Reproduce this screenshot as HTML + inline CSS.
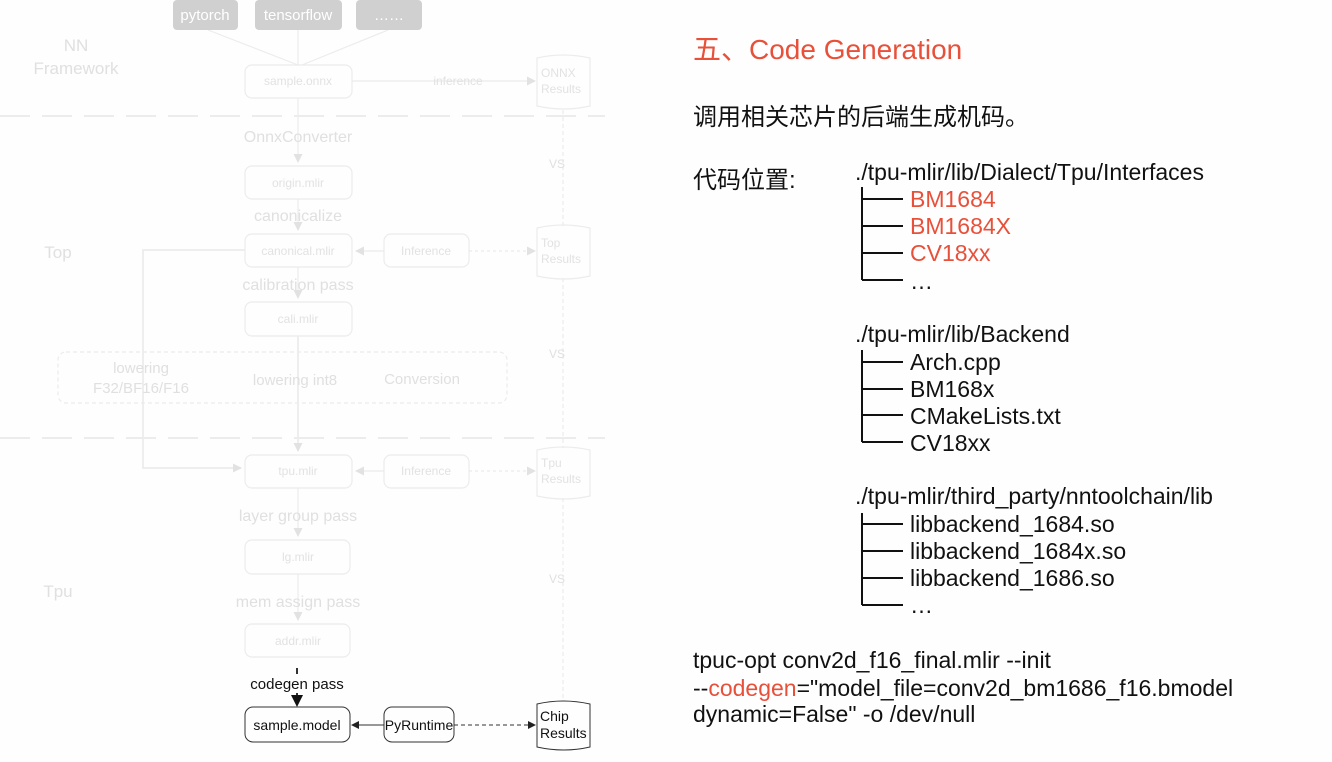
<!DOCTYPE html>
<html><head><meta charset="utf-8"><style>
html,body{margin:0;padding:0;background:#fff;}
svg{display:block;}
</style></head><body>
<svg width="1332" height="762" viewBox="0 0 1332 762" xmlns="http://www.w3.org/2000/svg" font-family="Liberation Sans, DejaVu Sans, sans-serif">
<rect width="1332" height="762" fill="#fefefe"/>
<defs>
<marker id="ag" markerUnits="userSpaceOnUse" markerWidth="9" markerHeight="9" refX="8" refY="4.5" orient="auto"><path d="M0,0 L9,4.5 L0,9z" fill="#e2e2e2"/></marker>
<marker id="ab" markerUnits="userSpaceOnUse" markerWidth="8" markerHeight="8" refX="7" refY="4" orient="auto"><path d="M0,0 L8,4 L0,8z" fill="#222"/></marker>
<marker id="ab2" markerUnits="userSpaceOnUse" markerWidth="12" markerHeight="12" refX="10" refY="6" orient="auto"><path d="M0,0 L12,6 L0,12z" fill="#111"/></marker>
</defs>
<g fill="none" stroke="#ececec" stroke-width="1.2">
<line x1="0" y1="116" x2="605" y2="116" stroke-dasharray="30,12" stroke-width="2"/>
<line x1="0" y1="438" x2="605" y2="438" stroke-dasharray="30,12" stroke-width="2"/>
<rect x="245" y="65" width="107" height="33" rx="7"/>
<rect x="245" y="166" width="107" height="33" rx="7"/>
<rect x="245" y="234" width="107" height="33" rx="7"/>
<rect x="245" y="302" width="107" height="34" rx="7"/>
<rect x="384" y="234" width="85" height="33" rx="7"/>
<rect x="58" y="352" width="449" height="51" rx="8" stroke-dasharray="4,3"/>
<rect x="245" y="455" width="107" height="33" rx="7"/>
<rect x="384" y="455" width="85" height="33" rx="7"/>
<rect x="245" y="540" width="105" height="34" rx="7"/>
<rect x="245" y="624" width="105" height="33" rx="7"/>
<path d="M537,58 q26,-6 53,0 v48 q-26,6 -53,0z"/>
<path d="M537,228 q26,-6 53,0 v48 q-26,6 -53,0z"/>
<path d="M537,450 q26,-6 53,0 v46 q-26,6 -53,0z"/>
<line x1="208" y1="30" x2="298" y2="65"/><line x1="298" y1="30" x2="298" y2="65"/><line x1="388" y1="30" x2="302" y2="65"/>
<line x1="298" y1="98" x2="298" y2="162" marker-end="url(#ag)"/>
<line x1="298" y1="199" x2="298" y2="230" marker-end="url(#ag)"/>
<line x1="298" y1="267" x2="298" y2="298" marker-end="url(#ag)"/>
<line x1="298" y1="336" x2="298" y2="451" marker-end="url(#ag)" stroke-width="1.8"/>
<polyline points="245,250 143,250 143,468 241,468" stroke-width="1.8" marker-end="url(#ag)"/>
<line x1="384" y1="251" x2="356" y2="251" marker-end="url(#ag)"/>
<line x1="384" y1="471" x2="356" y2="471" marker-end="url(#ag)"/>
<line x1="352" y1="81" x2="535" y2="81" marker-end="url(#ag)"/>
<line x1="469" y1="251" x2="535" y2="251" stroke-dasharray="3,3" marker-end="url(#ag)"/>
<line x1="469" y1="471" x2="535" y2="471" stroke-dasharray="3,3" marker-end="url(#ag)"/>
<line x1="298" y1="488" x2="298" y2="536" marker-end="url(#ag)"/>
<line x1="298" y1="574" x2="298" y2="620" marker-end="url(#ag)"/>
<line x1="563" y1="110" x2="563" y2="226" stroke-dasharray="4,3"/>
<line x1="563" y1="278" x2="563" y2="448" stroke-dasharray="4,3"/>
<line x1="563" y1="498" x2="563" y2="700" stroke-dasharray="4,3"/>
</g>
<g fill="#d0d0d0">
<rect x="173" y="0" width="65" height="30" rx="4"/>
<rect x="255" y="0" width="87" height="30" rx="4"/>
<rect x="356" y="0" width="66" height="30" rx="4"/>
</g>
<g fill="#fff" font-size="15" text-anchor="middle">
<text x="205" y="20">pytorch</text><text x="298" y="20">tensorflow</text><text x="389" y="20">……</text>
</g>
<g fill="#e0e0e0" font-size="17" text-anchor="middle">
<text x="76" y="51">NN</text><text x="76" y="74">Framework</text>
<text x="58" y="258">Top</text><text x="58" y="597">Tpu</text>
<text x="298" y="142" font-size="16">OnnxConverter</text>
<text x="298" y="221" font-size="16">canonicalize</text>
<text x="298" y="290" font-size="16">calibration pass</text>
<text x="141" y="373" font-size="15">lowering</text>
<text x="141" y="393" font-size="15">F32/BF16/F16</text>
<text x="295" y="385" font-size="15">lowering int8</text>
<text x="422" y="384" font-size="15">Conversion</text>
<text x="298" y="521" font-size="16">layer group pass</text>
<text x="298" y="607" font-size="16">mem  assign pass</text>
<text x="557" y="168" font-size="12">VS</text><text x="557" y="358" font-size="12">VS</text><text x="557" y="583" font-size="12">VS</text>
</g>
<g fill="#e2e2e2" font-size="12" text-anchor="middle">
<text x="298" y="85">sample.onnx</text><text x="298" y="187">origin.mlir</text>
<text x="298" y="255">canonical.mlir</text><text x="298" y="323">cali.mlir</text>
<text x="426" y="255">Inference</text><text x="426" y="475">Inference</text>
<text x="298" y="475">tpu.mlir</text><text x="298" y="561">lg.mlir</text><text x="298" y="645">addr.mlir</text>
<text x="458" y="85">inference</text>
</g>
<g fill="#e2e2e2" font-size="12">
<text x="541" y="77">ONNX</text><text x="541" y="93">Results</text>
<text x="541" y="247">Top</text><text x="541" y="263">Results</text>
<text x="541" y="467">Tpu</text><text x="541" y="483">Results</text>
</g>
<g fill="none" stroke="#333" stroke-width="1">
<line x1="297" y1="668" x2="297" y2="674" stroke-width="2"/>
<line x1="297" y1="693" x2="297" y2="705" stroke-width="2" marker-end="url(#ab2)"/>
<rect x="245" y="707" width="105" height="35" rx="8"/>
<rect x="384" y="707" width="70" height="35" rx="8"/>
<line x1="384" y1="725" x2="352" y2="725" marker-end="url(#ab)"/>
<line x1="454" y1="725" x2="535" y2="725" stroke-dasharray="4,3" marker-end="url(#ab)"/>
<path d="M537,704 q26,-6 53,0 v43 q-26,6 -53,0z"/>
</g>
<g font-size="14" fill="#111">
<text x="297" y="689" text-anchor="middle" font-size="15">codegen pass</text>
<text x="297" y="730" text-anchor="middle">sample.model</text>
<text x="419" y="730" text-anchor="middle">PyRuntime</text>
<text x="540" y="721">Chip</text><text x="540" y="738">Results</text>
</g>
<text x="693" y="59" font-size="28" fill="#e8503a" font-family="Liberation Sans, Noto Sans CJK SC, sans-serif">五、Code Generation</text>
<g font-size="23" fill="#111" font-family="Liberation Sans, Noto Sans CJK SC, sans-serif">
<text x="693" y="125" font-size="24">调用相关芯片的后端生成机码。</text>
<text x="693" y="188" font-size="24">代码位置:</text>
<text x="855" y="180">./tpu-mlir/lib/Dialect/Tpu/Interfaces</text>
<text x="910" y="207" fill="#e8503a">BM1684</text>
<text x="910" y="234" fill="#e8503a">BM1684X</text>
<text x="910" y="261" fill="#e8503a">CV18xx</text>
<text x="910" y="289">…</text>
<text x="855" y="342">./tpu-mlir/lib/Backend</text>
<text x="910" y="370">Arch.cpp</text>
<text x="910" y="397">BM168x</text>
<text x="910" y="424">CMakeLists.txt</text>
<text x="910" y="451">CV18xx</text>
<text x="855" y="504">./tpu-mlir/third_party/nntoolchain/lib</text>
<text x="910" y="532">libbackend_1684.so</text>
<text x="910" y="559">libbackend_1684x.so</text>
<text x="910" y="586">libbackend_1686.so</text>
<text x="910" y="613">…</text>
<text x="693" y="668">tpuc-opt conv2d_f16_final.mlir --init</text>
<text x="693" y="696">--<tspan fill="#e8503a">codegen</tspan>="model_file=conv2d_bm1686_f16.bmodel</text>
<text x="693" y="722">dynamic=False" -o /dev/null</text>
</g>
<g stroke="#111" stroke-width="2" fill="none">
<path d="M862,187 V280 M862,199 H903 M862,226 H903 M862,253 H903 M862,280 H903"/>
<path d="M862,350 V442 M862,362 H903 M862,389 H903 M862,415 H903 M862,442 H903"/>
<path d="M862,513 V605 M862,524 H903 M862,551 H903 M862,578 H903 M862,605 H903"/>
</g>
</svg>
</body></html>
